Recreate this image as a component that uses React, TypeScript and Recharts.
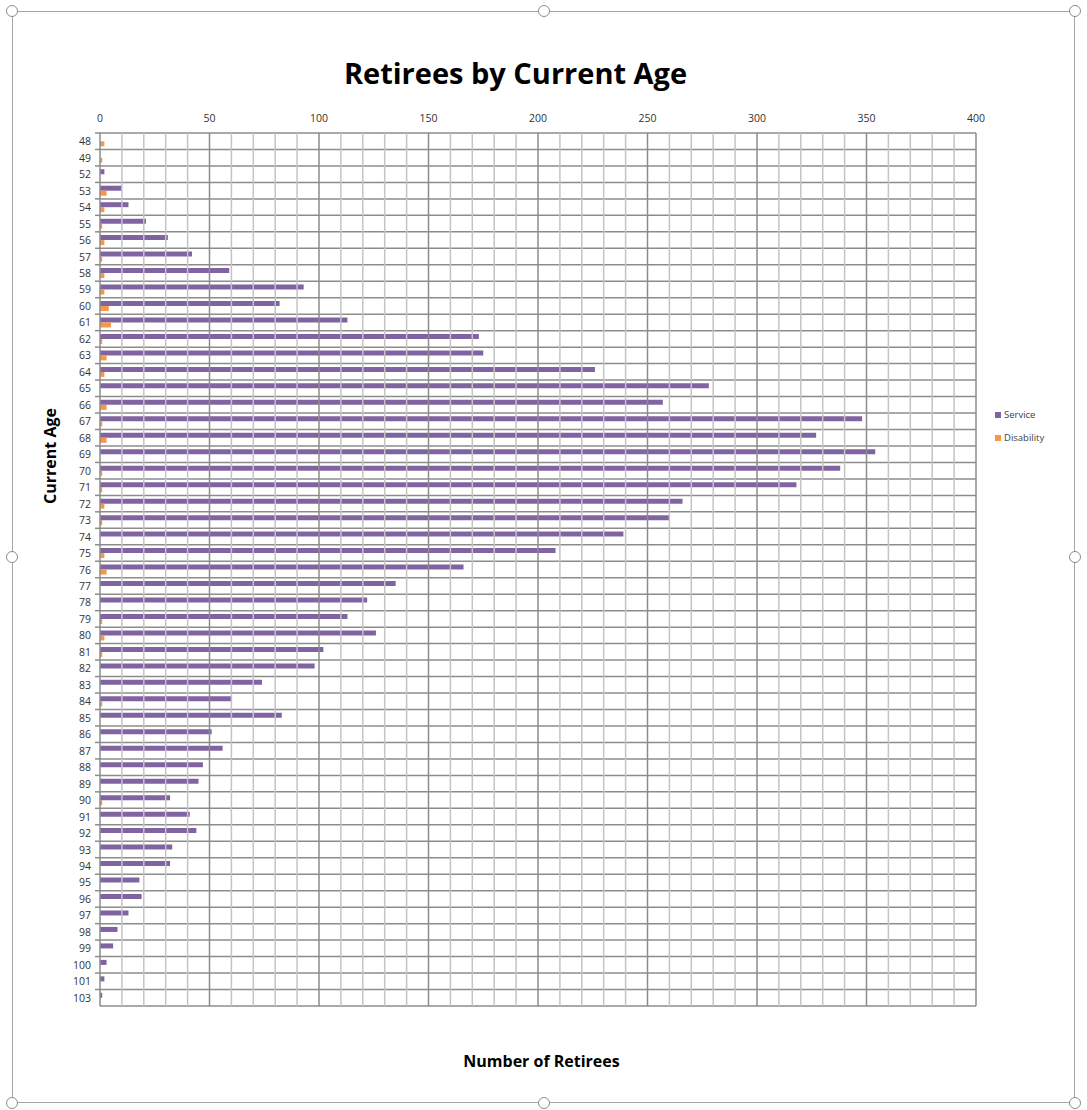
import React from 'react'
import { BarChart, Bar, XAxis, YAxis, CartesianGrid, ReferenceLine, Legend } from 'recharts'

const ages = [
  '48', '49', '52', '53', '54', '55', '56', '57', '58', '59', '60', '61', '62', '63', '64', '65', '66', '67',
  '68', '69', '70', '71', '72', '73', '74', '75', '76', '77', '78', '79', '80', '81', '82', '83', '84', '85',
  '86', '87', '88', '89', '90', '91', '92', '93', '94', '95', '96', '97', '98', '99', '100', '101', '103',
]

const service = [
  0, 0, 2, 10, 13, 21, 31, 42, 59, 93, 82, 113, 173, 175, 226, 278, 257, 348,
  327, 354, 338, 318, 266, 260, 239, 208, 166, 135, 122, 113, 126, 102, 98, 74, 60, 83,
  51, 56, 47, 45, 32, 41, 44, 33, 32, 18, 19, 13, 8, 6, 3, 2, 1,
]

const disability = [
  2, 1, 0, 3, 2, 1, 2, 1, 2, 2, 4, 5, 1, 3, 2, 0, 3, 1,
  3, 0, 1, 1, 2, 1, 0, 2, 3, 0, 0, 1, 2, 1, 0, 0, 1, 0,
  0, 0, 0, 0, 1, 0, 0, 0, 0, 0, 0, 0, 0, 0, 0, 0, 0,
]

const xTicks = [0, 50, 100, 150, 200, 250, 300, 350, 400]

const data = ages.map((age, i) => ({ age, service: service[i], disability: disability[i] }))

// minor gridlines every 10
const gridValues = Array.from({ length: 41 }, (_, i) => i * 10)

const FONT = 'Open Sans, sans-serif'
const PURPLE = '#8064A2'
const ORANGE = '#F79646'

const W = 1087
const H = 1110

const AgeTick = (props: any) => {
  const { x, y, payload } = props
  const band = 874 / ages.length
  return (
    <g>
      <line x1={x + 3} x2={x + 8} y1={y - band / 2} y2={y - band / 2} stroke="#8c8c8c" strokeWidth={1.5} />
      <text x={x - 1} y={y} dy={4} textAnchor="end" fontSize={10.5} fill="#333" fontFamily={FONT}>
        {payload.value}
      </text>
    </g>
  )
}

const LegendBox = () => (
  <div style={{ fontFamily: FONT, fontSize: 9.5, color: '#404040' }}>
    {[
      { name: 'Service', color: PURPLE },
      { name: 'Disability', color: ORANGE },
    ].map((d) => (
      <div key={d.name} style={{ display: 'flex', alignItems: 'center', height: 23 }}>
        <span style={{ width: 6, height: 6, background: d.color, marginRight: 3, display: 'inline-block' }} />
        {d.name}
      </div>
    ))}
  </div>
)

const handles = [
  [12, 11], [544, 11], [1075, 11],
  [12, 557], [1075, 557],
  [12, 1103], [544, 1103], [1075, 1103],
]

export default function App() {
  return (
    <div style={{ position: 'relative', width: W, height: H, background: '#fff', overflow: 'hidden' }}>
      <style>{'body{margin:0}'}</style>
      <div
        style={{
          position: 'absolute', left: 12, top: 11, width: 1063, height: 1092,
          border: '1px solid #a6a6a6', boxSizing: 'border-box',
        }}
      />
      {handles.map(([hx, hy], i) => (
        <div
          key={i}
          style={{
            position: 'absolute', left: hx - 6, top: hy - 6, width: 12, height: 12, borderRadius: '50%',
            border: '1.5px solid #8c8c8c', background: '#fff', boxSizing: 'border-box', zIndex: 2,
          }}
        />
      ))}
      <div
        style={{
          position: 'absolute', left: 0, top: 53, width: 1031, textAlign: 'center',
          fontFamily: FONT, fontWeight: 700, fontSize: 29, color: '#000',
        }}
      >
        Retirees by Current Age
      </div>
      <div
        style={{
          position: 'absolute', left: 0, top: 1050, width: 1083, textAlign: 'center',
          fontFamily: FONT, fontWeight: 700, fontSize: 16, color: '#000',
        }}
      >
        Number of Retirees
      </div>
      <div
        style={{
          position: 'absolute', left: 50, top: 456, transform: 'translate(-50%, -50%) rotate(-90deg)',
          fontFamily: FONT, fontWeight: 700, fontSize: 16, color: '#000', whiteSpace: 'nowrap',
        }}
      >
        Current Age
      </div>
      <div style={{ position: 'absolute', left: 0, top: 0 }}>
        <BarChart
          width={W}
          height={H}
          data={data}
          layout="vertical"
          margin={{ top: 113, right: 111, bottom: 104, left: 40 }}
          barCategoryGap="20%"
          barGap={0}
        >
          <CartesianGrid
            vertical={false}
            stroke="#8c8c8c"
            strokeWidth={1.5}
            horizontalCoordinatesGenerator={({ offset }: any) =>
              Array.from({ length: ages.length + 1 }, (_, i) => offset.top + (i * offset.height) / ages.length)
            }
          />
          {gridValues.map((v) => (
            <ReferenceLine
              key={v}
              x={v}
              stroke={v % 50 === 0 ? '#8c8c8c' : '#c4c4c4'}
              strokeWidth={1.5}
              ifOverflow="extendDomain"
            />
          ))}
          <XAxis
            type="number"
            orientation="top"
            domain={[0, 400]}
            ticks={xTicks}
            height={20}
            axisLine={false}
            tickLine={false}
            tick={{ fontSize: 10.5, fill: '#333', fontFamily: FONT, dy: -3 }}
            interval={0}
          />
          <YAxis
            type="category"
            dataKey="age"
            width={60}
            axisLine={false}
            tickLine={false}
            interval={0}
            tick={<AgeTick />}
          />
          <Legend
            layout="vertical"
            align="center"
            verticalAlign="middle"
            content={<LegendBox />}
            wrapperStyle={{ position: 'absolute', left: 995, top: 403, width: 80 }}
          />
          <Bar dataKey="service" name="Service" fill={PURPLE} isAnimationActive={false} />
          <Bar dataKey="disability" name="Disability" fill={ORANGE} isAnimationActive={false} />
        </BarChart>
      </div>
    </div>
  )
}
